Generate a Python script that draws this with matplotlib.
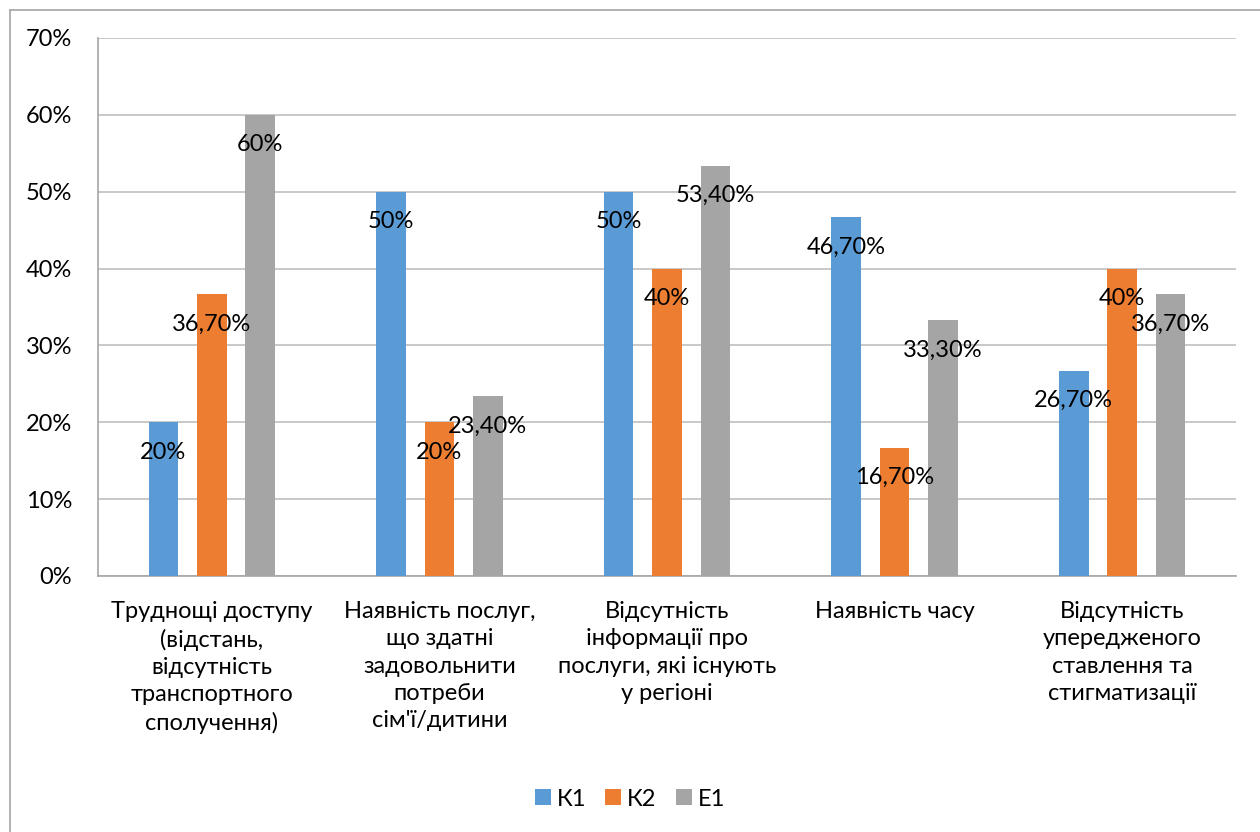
import matplotlib
matplotlib.use("Agg")
import matplotlib.pyplot as plt
import numpy as np

plt.rcParams['font.family'] = ['Lato', 'Noto Sans', 'DejaVu Sans']

# categories and values (percent)
categories = [
    "Труднощі доступу\n(відстань,\nвідсутність\nтранспортного\nсполучення)",
    "Наявність послуг,\nщо здатні\nзадовольнити\nпотреби\nсім'ї/дитини",
    "Відсутність\nінформації про\nпослуги, які існують\nу регіоні",
    "Наявність часу",
    "Відсутність\nупередженого\nставлення та\nстигматизації",
]
series_names = ["К1", "К2", "Е1"]
k1 = [20, 50, 50, 46.7, 26.7]
k2 = [36.7, 20, 40, 16.7, 40]
e1 = [60, 23.4, 53.4, 33.3, 36.7]
k1_labels = ["20%", "50%", "50%", "46,70%", "26,70%"]
k2_labels = ["36,70%", "20%", "40%", "16,70%", "40%"]
e1_labels = ["60%", "23,40%", "53,40%", "33,30%", "36,70%"]
colors = ["#5B9BD5", "#ED7D31", "#A5A5A5"]

fs = 17

fig = plt.figure(figsize=(12.6, 8.32), dpi=100)
ax = fig.add_axes([98/1260, 1-576/832, 1138/1260, 538/832])

# chart border (Excel style frame)
fig.add_artist(plt.Line2D([9.5/1260, 9.5/1260], [0, 1-9.5/832], transform=fig.transFigure,
                          color="#A6A6A6", lw=1.2))
fig.add_artist(plt.Line2D([9.5/1260, 1], [1-9.5/832, 1-9.5/832], transform=fig.transFigure,
                          color="#A6A6A6", lw=1.2))

x = np.arange(len(categories))
w = 0.13
offs = [-0.213, 0, 0.213]
handles = []
for vals, labs, off, c, name in zip([k1, k2, e1], [k1_labels, k2_labels, e1_labels],
                                     offs, colors, series_names):
    b = ax.bar(x + off, vals, width=w, color=c, label=name, zorder=3)
    handles.append(b)
    for xi, v, lab in zip(x + off, vals, labs):
        ax.annotate(lab, (xi, v), xytext=(0, -30), textcoords='offset pixels',
                    ha='center', va='center', fontsize=fs, color='black', zorder=4)

ax.set_xlim(-0.5, len(categories) - 0.5)
ax.set_ylim(0, 70)
ax.set_yticks(range(0, 71, 10))
ax.set_yticklabels([f"{t}%" for t in range(0, 71, 10)])
ax.set_xticks(x)
ax.set_xticklabels(categories, fontsize=fs, linespacing=1.37, va='top')
ax.tick_params(axis='y', length=0, pad=18.5, labelsize=fs)
ax.tick_params(axis='x', length=0, pad=18)

ax.grid(axis='y', color="#BFBFBF", lw=1.2, zorder=0)
for s in ['top', 'right']:
    ax.spines[s].set_visible(False)
for s in ['left', 'bottom']:
    ax.spines[s].set_color("#A6A6A6")
    ax.spines[s].set_linewidth(1.2)

fig.legend(handles=handles, labels=series_names, loc='center',
           bbox_to_anchor=(0.5, 1-799/832), ncol=3, frameon=False,
           fontsize=fs, handlelength=0.68, handleheight=0.68,
           handletextpad=0.25, columnspacing=0.8)

fig.savefig("out.png", dpi=100)
